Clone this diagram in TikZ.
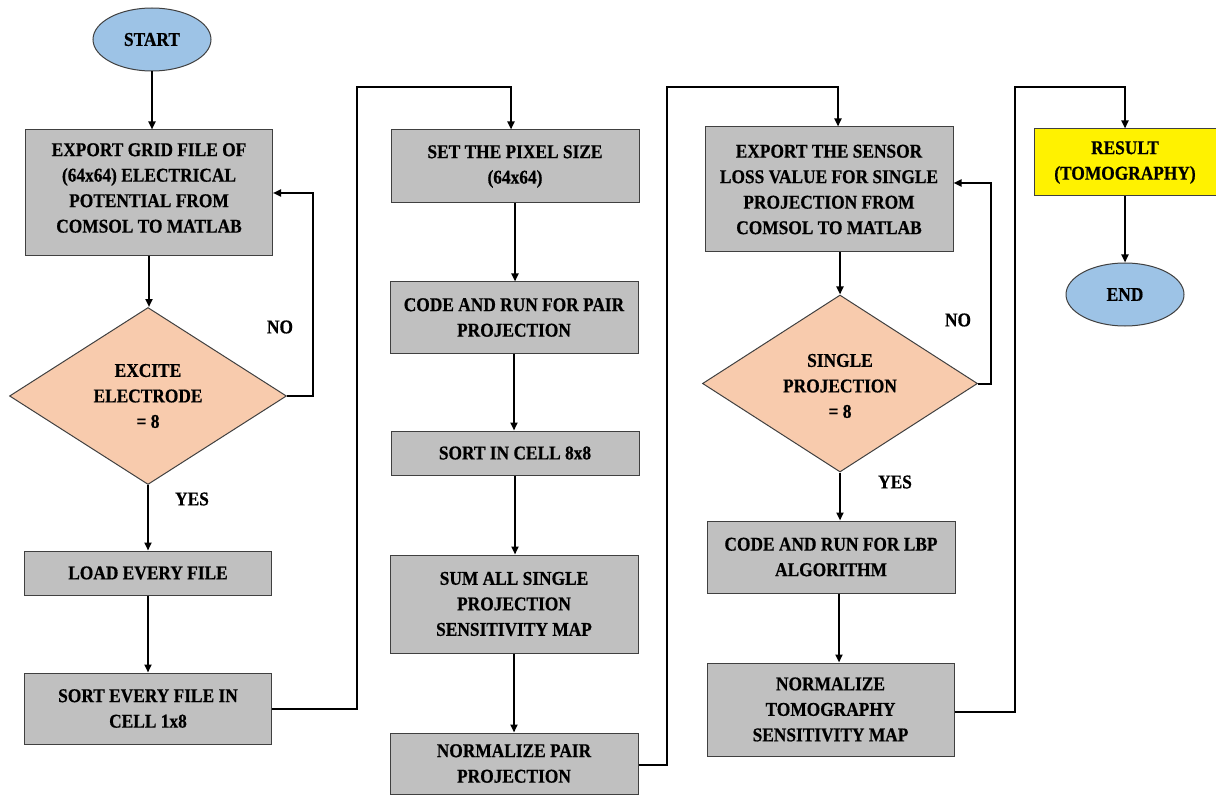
\documentclass[tikz,border=0pt]{standalone}
\usepackage{fontspec}
\setmainfont[FakeStretch=0.89,BoldFeatures={FakeBold=0.6}]{Liberation Serif}
\usetikzlibrary{shapes.geometric,arrows.meta}
\definecolor{boxgray}{HTML}{C0C0C0}
\definecolor{peach}{HTML}{F8CBAD}
\definecolor{skyblue}{HTML}{9DC3E6}
\definecolor{edgegray}{HTML}{404040}
\begin{document}
\begin{tikzpicture}[x=1pt,y=-1pt,
  every node/.style={font=\fontsize{19.5}{25.5}\selectfont\bfseries, align=center, inner sep=0pt},
  procbox/.style={rectangle, draw=edgegray, line width=1pt, fill=boxgray},
  resbox/.style={rectangle, draw=edgegray, line width=1pt, fill=yellow},
  term/.style={ellipse, draw=edgegray, line width=1pt, fill=skyblue, minimum width=118, minimum height=63},
  dec/.style={diamond, draw=edgegray, line width=1pt, fill=peach},
  arr/.style={-{Triangle[length=8pt,width=7pt]}, line width=2pt}
]
\useasboundingbox (0,0) rectangle (1216,805);

% column 1
\node[term] (start) at (152,39.5) {START};
\node[procbox, minimum width=247, minimum height=126] (b1) at (149,193) {};
\node at (149,188) {EXPORT GRID FILE OF\\(64x64) ELECTRICAL\\POTENTIAL FROM\\COMSOL TO MATLAB};
\node[dec, minimum width=277, minimum height=177] (d1) at (148,396) {};
\node at (d1) {EXCITE\\ELECTRODE\\= 8};
\node[procbox, minimum width=247, minimum height=44] (load) at (148,573) {LOAD EVERY FILE};
\node[procbox, minimum width=247, minimum height=71] (sort1) at (148,708.5) {SORT EVERY FILE IN\\CELL 1x8};
\node (no1) at (280,327) {NO};
\node (yes1) at (192,499) {YES};

% column 2
\node[procbox, minimum width=248, minimum height=73] (setpx) at (515,166.5) {SET THE PIXEL SIZE\\(64x64)};
\node[procbox, minimum width=248, minimum height=71] (pair) at (514,317.5) {CODE AND RUN FOR PAIR\\PROJECTION};
\node[procbox, minimum width=248, minimum height=44] (sort8) at (515,453) {SORT IN CELL 8x8};
\node[procbox, minimum width=248, minimum height=98] (sum) at (514,604) {SUM ALL SINGLE\\PROJECTION\\SENSITIVITY MAP};
\node[procbox, minimum width=248, minimum height=61] (norm2) at (514,763.5) {NORMALIZE PAIR\\PROJECTION};

% column 3
\node[procbox, minimum width=248, minimum height=125] (exp2) at (829,189.5) {EXPORT THE SENSOR\\LOSS VALUE FOR SINGLE\\PROJECTION FROM\\COMSOL TO MATLAB};
\node[dec, minimum width=275, minimum height=177] (d2) at (840,383.5) {};
\node at (840,386) {SINGLE\\PROJECTION\\= 8};
\node[procbox, minimum width=248, minimum height=72] (lbp) at (831,557) {CODE AND RUN FOR LBP\\ALGORITHM};
\node[procbox, minimum width=247, minimum height=93] (normt) at (830.5,709.5) {NORMALIZE\\TOMOGRAPHY\\SENSITIVITY MAP};
\node (no2) at (958,320) {NO};
\node (yes2) at (895,482) {YES};

% column 4
\node[resbox, minimum width=182, minimum height=67] (res) at (1125,162.5) {RESULT\\(TOMOGRAPHY)};
\node[term] (endn) at (1125,294.5) {END};

% connectors column 1
\draw[arr] (start.south) -- (start.south |- b1.north);
\draw[arr] (b1.south) -- (b1.south |- d1.north);
\draw[arr] (d1.east) -- ++(26,0) |- (b1.east);
\draw[arr] (d1.south) -- (d1.south |- load.north);
\draw[arr] (load.south) -- (load.south |- sort1.north);
\draw[arr] (sort1.east) -| (357,87) -| ([xshift=-4]setpx.north);

% connectors column 2
\draw[arr] (setpx.south) -- (setpx.south |- pair.north);
\draw[arr] (pair.south) -- (pair.south |- sort8.north);
\draw[arr] (sort8.south) -- (sort8.south |- sum.north);
\draw[arr] (sum.south) -- (sum.south |- norm2.north);
\draw[arr] ([yshift=-1.5]norm2.east) -| (667,87) -| ([xshift=9]exp2.north);

% connectors column 3
\draw[arr] (d2.north |- exp2.south) -- (d2.north);
\draw[arr] (d2.east) -- ++(13,0) |- ([yshift=6.5]exp2.east);
\draw[arr] (d2.south) -- (d2.south |- lbp.north);
\draw[arr] ([xshift=8]lbp.south) -- ([xshift=8]lbp.south |- normt.north);
\draw[arr] ([yshift=-2.5]normt.east) -| (1015,87) -| (res.north);

% connectors column 4
\draw[arr] (res.south) -- (res.south |- endn.north);
\end{tikzpicture}
\end{document}
